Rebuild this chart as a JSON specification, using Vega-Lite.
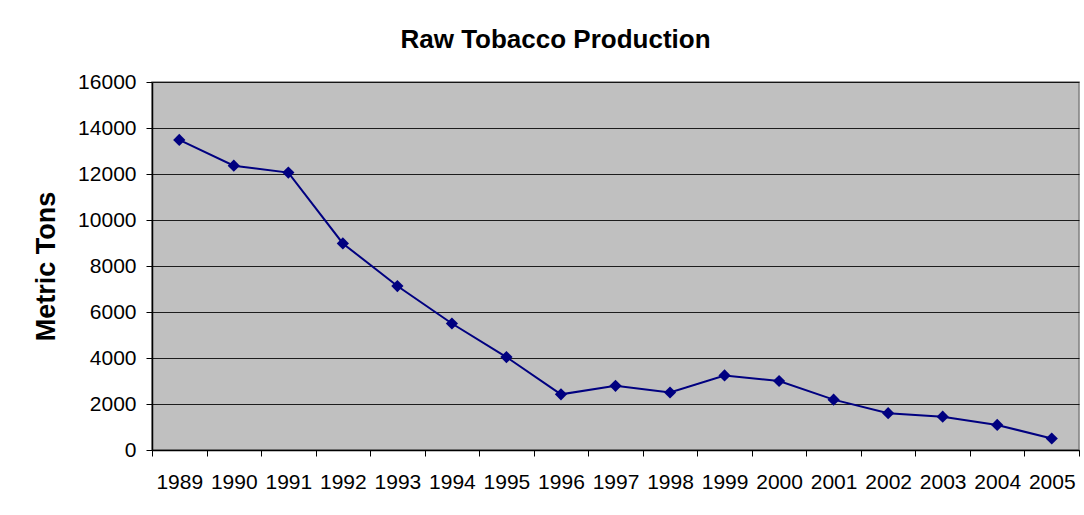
{
  "$schema": "https://vega.github.io/schema/vega-lite/v6.json",
  "width": 927,
  "height": 368,
  "autosize": {"type": "none"},
  "padding": {"left": 152, "top": 82, "right": 5, "bottom": 65},
  "background": "white",
  "title": {
    "text": "Raw Tobacco Production",
    "font": "Liberation Sans",
    "fontSize": 26,
    "fontWeight": "bold",
    "color": "black",
    "anchor": "middle",
    "offset": 18,
    "dx": -60
  },
  "config": {
    "view": {"stroke": "#808080", "fill": "#C0C0C0", "strokeWidth": 1.5},
    "axis": {
      "labelFont": "Liberation Sans",
      "labelFontSize": 21,
      "labelColor": "black",
      "titleFont": "Liberation Sans",
      "titleColor": "black",
      "domainColor": "black",
      "domainWidth": 1.5,
      "tickColor": "black",
      "tickWidth": 1
    }
  },
  "data": {
    "values": [
      {"year": 1989, "tons": 13480},
      {"year": 1990, "tons": 12360},
      {"year": 1991, "tons": 12060},
      {"year": 1992, "tons": 8980},
      {"year": 1993, "tons": 7130},
      {"year": 1994, "tons": 5500},
      {"year": 1995, "tons": 4040},
      {"year": 1996, "tons": 2420},
      {"year": 1997, "tons": 2790},
      {"year": 1998, "tons": 2500},
      {"year": 1999, "tons": 3240},
      {"year": 2000, "tons": 3000},
      {"year": 2001, "tons": 2190},
      {"year": 2002, "tons": 1600},
      {"year": 2003, "tons": 1450},
      {"year": 2004, "tons": 1090},
      {"year": 2005, "tons": 500}
    ]
  },
  "mark": {
    "type": "line",
    "color": "#000080",
    "strokeWidth": 2,
    "point": {"shape": "diamond", "size": 150, "filled": true, "color": "#000080", "opacity": 1}
  },
  "encoding": {
    "x": {
      "field": "year",
      "type": "quantitative",
      "scale": {"domain": [1988.5, 2005.5], "nice": false, "zero": false},
      "axis": {
        "title": null,
        "values": [1988.5, 1989, 1989.5, 1990, 1990.5, 1991, 1991.5, 1992, 1992.5, 1993, 1993.5, 1994, 1994.5, 1995, 1995.5, 1996, 1996.5, 1997, 1997.5, 1998, 1998.5, 1999, 1999.5, 2000, 2000.5, 2001, 2001.5, 2002, 2002.5, 2003, 2003.5, 2004, 2004.5, 2005, 2005.5],
        "labelExpr": "datum.value % 1 == 0 ? format(datum.value, 'd') : ''",
        "tickOpacity": {"condition": {"test": "datum.value % 1 != 0", "value": 1}, "value": 0},
        "tickSize": 6,
        "labelPadding": 15,
        "labelOverlap": false,
        "labelFlush": false,
        "grid": false
      }
    },
    "y": {
      "field": "tons",
      "type": "quantitative",
      "scale": {"domain": [0, 16000], "nice": false},
      "axis": {
        "title": "Metric Tons",
        "titleFontSize": 27,
        "titleFontWeight": "bold",
        "titlePadding": 17,
        "values": [0, 2000, 4000, 6000, 8000, 10000, 12000, 14000, 16000],
        "format": "d",
        "tickSize": 6,
        "labelPadding": 10,
        "grid": true,
        "gridColor": "black",
        "gridWidth": 1,
        "gridOpacity": 0.85
      }
    }
  }
}
